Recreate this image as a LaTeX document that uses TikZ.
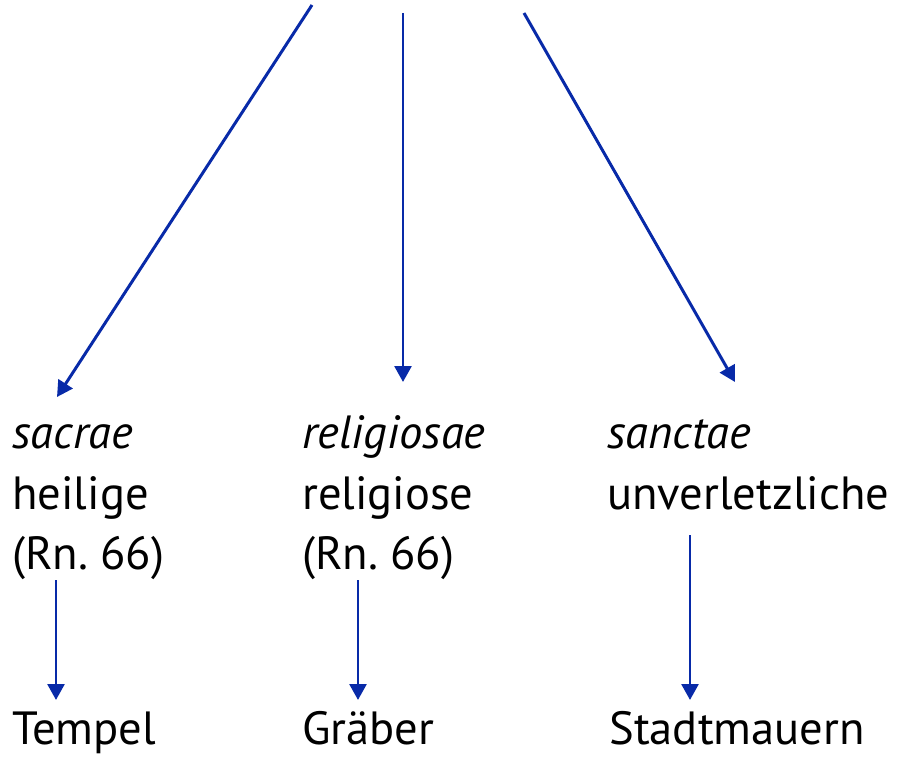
\documentclass[tikz,border=0pt]{standalone}
\usepackage{fontspec}
\setmainfont{PT Sans}
\usepackage{tikz}
\usetikzlibrary{arrows.meta,calc}
\usepackage{xcolor}
\definecolor{arrowblue}{RGB}{8,42,168}

\tikzset{
  word/.style={anchor=base west, inner sep=0pt, font=\fontsize{26.5}{32}\selectfont},
  link/.style={arrowblue, line width=1.7pt, -{Triangle[width=9.5pt,length=9pt]}}
}

\begin{document}
\begin{tikzpicture}[x=0.02cm,y=-0.02cm]
  \useasboundingbox (0,0) rectangle (897,757);
  % Where the three upper arrows come from
  \coordinate (from1) at (312,5);
  \coordinate (from2) at (403,13);
  \coordinate (from3) at (524,13);

  % First column
  \node[word] (sacrae) at (12,448) {\itshape sacrae};
  \node[word] (heilige) at (12,509) {heilige};
  \node[word] (rn1) at (12,569) {(Rn.~66)};
  \node[word] (tempel) at (12,744) {Tempel};

  % Second column
  \node[word] (religiosae) at (302,448) {\itshape religiosae};
  \node[word] (religiose) at (302,509) {religiose};
  \node[word] (rn2) at (302,569) {(Rn.~66)};
  \node[word] (graeber) at (302,744) {Gräber};

  % Third column
  \node[word] (sanctae) at (607,448) {\itshape sanctae};
  \node[word] (unverl) at (607,509) {unverletzliche};
  \node[word] (mauern) at (609,744) {Stadtmauern};

  % Tips of the arrows
  \coordinate (to1) at (57,397);
  \coordinate (to2) at (403,382);
  \coordinate (to3) at (735,382);

  \draw[link] (from1) -- (to1);
  \draw[link] (from2) -- (to2);
  \draw[link] (from3) -- (to3);

  % Lower arrows, from the classes down to the examples
  \coordinate (down1) at (56,580);
  \coordinate (down2) at (358,580);
  \coordinate (down3) at (690,535);
  \draw[link] (down1) -- (56,700);
  \draw[link] (down2) -- (358,700);
  \draw[link] (down3) -- (690,700);
\end{tikzpicture}
\end{document}
